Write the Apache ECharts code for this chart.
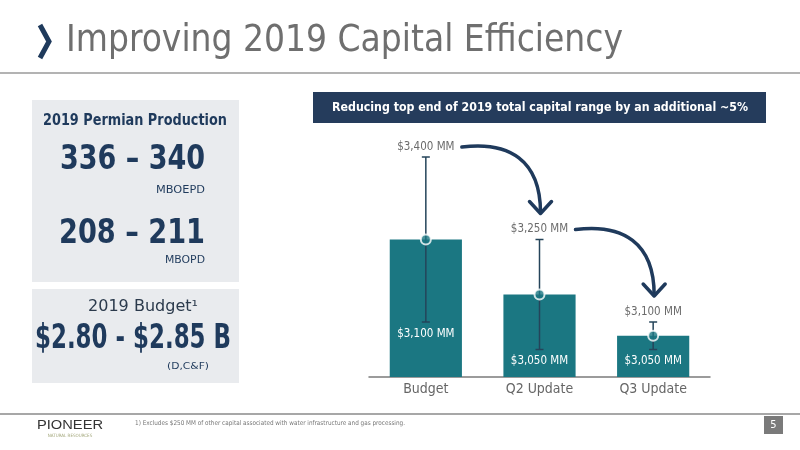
<!DOCTYPE html>
<html>
<head>
<meta charset="utf-8">
<script src="https://cdn.jsdelivr.net/npm/echarts@6/dist/echarts.min.js"></script>
<style>
  html, body { margin: 0; padding: 0; background: #fff; }
  #main { width: 800px; height: 450px; }
</style>
</head>
<body>
<div id="main"></div>
<script>
// chart data
const categories = ['Budget', 'Q2 Update', 'Q3 Update'];
const lowValues = [3100, 3050, 3050];   // bottom of capital range, $MM
const highValues = [3400, 3250, 3100];  // top of capital range, $MM
const midValues = [3250, 3150, 3075];   // bar height (midpoint)
const axisMin = 3000;
const axisMax = 3400;

const FONT = '"DejaVu Sans Condensed", "DejaVu Sans", sans-serif';
const NAVY = '#1f3a5c';
const TEAL = '#1b7782';

const measureCtx = document.createElement('canvas').getContext('2d');
function fitScale(text, font, width) {
  measureCtx.font = font;
  return width / measureCtx.measureText(text).width;
}

// text squeezed to a given width (slide fonts are narrower than ours)
function fitText(text, font, x, y, width, fill, align) {
  return {
    type: 'text', x: x, y: y,
    scaleX: fitScale(text, font, width),
    style: { x: 0, y: 0, text: text, font: font, fill: fill, align: align || 'left', verticalAlign: 'middle' }
  };
}

function fmtMM(v) {
  return '$' + v.toLocaleString('en-US') + ' MM';
}

const chart = echarts.init(document.getElementById('main'));

const barData = categories.map((c, i) => [i, midValues[i]]);
const rangeData = categories.map((c, i) => [i, lowValues[i], highValues[i]]);
const arrowData = [];
for (let i = 0; i < categories.length - 1; i++) {
  arrowData.push([i, highValues[i], i + 1, highValues[i + 1]]);
}

const option = {
  animation: false,
  grid: { left: 369, right: 90, top: 157, bottom: 73 },
  xAxis: {
    type: 'category',
    data: categories,
    axisLine: { lineStyle: { color: '#7b7b7b', width: 1.5 } },
    axisTick: { show: false },
    axisLabel: { color: '#666', fontSize: 14, fontFamily: FONT, margin: 5 }
  },
  yAxis: {
    type: 'value',
    min: axisMin,
    max: axisMax,
    show: false,
    splitLine: { show: false }
  },
  series: [
    {
      // bars from axis base up to the midpoint
      type: 'custom',
      data: barData,
      z: 2,
      renderItem: function (params, api) {
        const top = api.coord([api.value(0), api.value(1)]);
        const base = api.coord([api.value(0), axisMin]);
        const w = api.size([1, 0])[0] * 0.635;
        return {
          type: 'rect',
          shape: { x: top[0] - w / 2, y: top[1], width: w, height: base[1] - top[1] },
          style: { fill: TEAL }
        };
      }
    },
    {
      // capital range whiskers + labels
      type: 'custom',
      data: rangeData,
      z: 3,
      renderItem: function (params, api) {
        const lo = api.coord([api.value(0), api.value(1)]);
        const hi = api.coord([api.value(0), api.value(2)]);
        const cap = 4;
        const lineStyle = { stroke: '#25445a', lineWidth: 1.5 };
        return {
          type: 'group',
          children: [
            { type: 'line', shape: { x1: lo[0], y1: lo[1], x2: hi[0], y2: hi[1] }, style: lineStyle },
            { type: 'line', shape: { x1: hi[0] - cap, y1: hi[1], x2: hi[0] + cap, y2: hi[1] }, style: lineStyle },
            { type: 'line', shape: { x1: lo[0] - cap, y1: lo[1], x2: lo[0] + cap, y2: lo[1] }, style: lineStyle },
            {
              type: 'text',
              style: {
                x: hi[0], y: hi[1] - 10, text: fmtMM(api.value(2)),
                align: 'center', verticalAlign: 'middle',
                fill: '#6b6b6b', font: '11.5px ' + FONT
              }
            },
            {
              type: 'text',
              style: {
                x: lo[0], y: lo[1] + 12, text: fmtMM(api.value(1)),
                align: 'center', verticalAlign: 'middle',
                fill: '#ffffff', font: '11.5px ' + FONT
              }
            }
          ]
        };
      }
    },
    {
      type: 'scatter',
      data: barData,
      z: 4,
      symbolSize: 10,
      itemStyle: { color: TEAL, borderColor: '#fff', borderWidth: 2 }
    },
    {
      // curved arrows between the top-of-range labels
      type: 'custom',
      data: arrowData,
      z: 5,
      renderItem: function (params, api) {
        const a = api.coord([api.value(0), api.value(1)]);
        const b = api.coord([api.value(2), api.value(3)]);
        const sx = a[0] + 36, sy = a[1] - 10;
        const ex = b[0] + 1, ey = b[1] - 27;
        const dx = ex - sx, dy = ey - sy;
        const st = { stroke: NAVY, lineWidth: 3.5, fill: null, lineCap: 'round', lineJoin: 'round' };
        return {
          type: 'group',
          children: [
            {
              type: 'bezierCurve',
              shape: {
                x1: sx, y1: sy,
                cpx1: sx + dx * 0.6, cpy1: sy - 6,
                cpx2: ex, cpy2: sy + dy * 0.2,
                x2: ex, y2: ey
              },
              style: st
            },
            {
              type: 'polyline',
              shape: { points: [[ex - 11, ey - 11], [ex, ey + 1], [ex + 11, ey - 11]] },
              style: st
            }
          ]
        };
      }
    }
  ],
  graphic: [
    // title
    {
      type: 'polyline',
      shape: { points: [[40, 25], [49, 41.5], [40, 58]] },
      style: { stroke: NAVY, lineWidth: 5, fill: null }
    },
    fitText('Improving 2019 Capital Efficiency', '37px ' + FONT, 66, 41.5, 557, '#6f6f6f'),
    {
      type: 'line',
      shape: { x1: 0, y1: 73, x2: 800, y2: 73 },
      style: { stroke: '#9a9a9a', lineWidth: 1.5 }
    },
    // chart heading
    {
      type: 'rect',
      shape: { x: 313, y: 92, width: 453, height: 31 },
      style: { fill: '#253c5c' }
    },
    fitText('Reducing top end of 2019 total capital range by an additional ~5%', 'bold 13px ' + FONT,
      540, 107.5, 416, '#fff', 'center'),
    // left panels
    { type: 'rect', shape: { x: 32, y: 100, width: 207, height: 182 }, style: { fill: '#e9ebee' } },
    { type: 'rect', shape: { x: 32, y: 289, width: 207, height: 94 }, style: { fill: '#e9ebee' } },
    fitText('2019 Permian Production', 'bold 15px ' + FONT, 135, 121.5, 184, NAVY, 'center'),
    fitText('336 – 340', 'bold 34px ' + FONT, 132.5, 160, 145, NAVY, 'center'),
    fitText('MBOEPD', '11px ' + FONT, 205, 190, 49, NAVY, 'right'),
    fitText('208 – 211', 'bold 34px ' + FONT, 132, 234, 146, NAVY, 'center'),
    fitText('MBOPD', '11px ' + FONT, 205, 260, 40, NAVY, 'right'),
    fitText('2019 Budget¹', '15px ' + FONT, 143, 307, 110, '#2b3a4c', 'center'),
    fitText('$2.80 - $2.85 B', 'bold 33px ' + FONT, 133, 339, 196, NAVY, 'center'),
    fitText('(D,C&F)', '9px ' + FONT, 188, 367, 42, NAVY, 'center'),
    // footer
    {
      type: 'line',
      shape: { x1: 0, y1: 414, x2: 800, y2: 414 },
      style: { stroke: '#8a8a8a', lineWidth: 1.5 }
    },
    fitText('PIONEER', '12px "Liberation Sans", sans-serif', 37, 426, 66, '#333'),
    {
      type: 'text',
      style: { x: 70, y: 436, text: 'NATURAL RESOURCES', align: 'center', verticalAlign: 'middle',
        fill: '#a2a67a', font: '4.5px ' + FONT }
    },
    fitText('1) Excludes $250 MM of other capital associated with water infrastructure and gas processing.',
      '6.5px ' + FONT, 135, 423.5, 270, '#777'),
    { type: 'rect', shape: { x: 764, y: 416, width: 19, height: 18 }, style: { fill: '#7a7a7a' } },
    {
      type: 'text',
      style: { x: 773.5, y: 425, text: '5', align: 'center', verticalAlign: 'middle',
        fill: '#fff', font: '11px ' + FONT }
    }
  ]
};

chart.setOption(option);
</script>
</body>
</html>
